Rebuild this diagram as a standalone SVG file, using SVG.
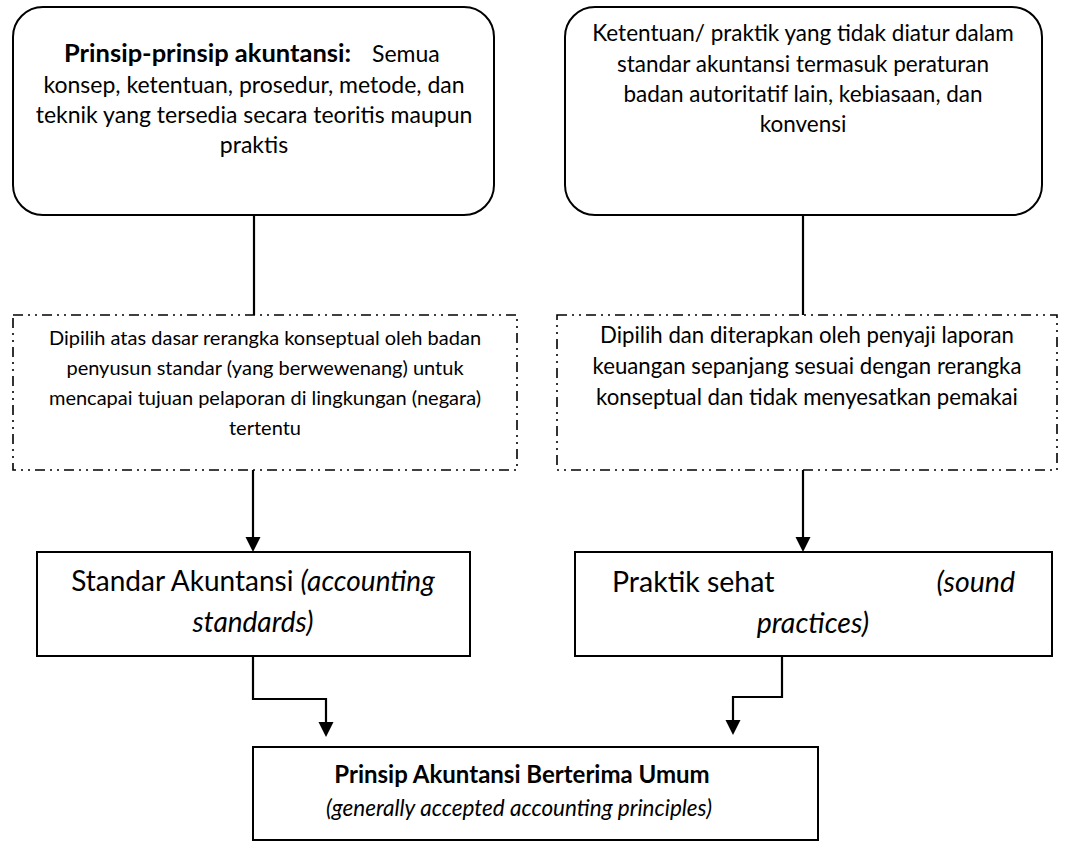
<svg xmlns="http://www.w3.org/2000/svg" width="1067" height="850" viewBox="0 0 1067 850">
<style>
.t{font-family:Lato,"Open Sans","Liberation Sans",sans-serif;fill:#000;text-anchor:middle}
.s{text-anchor:start}
.box{fill:#fff;stroke:#000;stroke-width:2}
.dash{fill:none;stroke:#000;stroke-width:1.6;stroke-dasharray:10 5 2 5 2 5}
.con{fill:none;stroke:#000;stroke-width:2.2}
</style>
<rect width="1067" height="850" fill="#fff"/>
<g id="connectors">
<line class="con" x1="254" y1="215" x2="254" y2="315"/>
<line class="con" x1="803" y1="215" x2="803" y2="315"/>
<path class="con" d="M253 470 V537"/>
<path d="M245.5 537 L260.5 537 L253 552 Z" fill="#000"/>
<path class="con" d="M803 470 V537"/>
<path d="M795.5 537 L810.5 537 L803 552 Z" fill="#000"/>
<path class="con" d="M253 656 V699 H326 V723"/>
<path d="M318.5 722 L333.5 722 L326 737 Z" fill="#000"/>
<path class="con" d="M782 656 V697 H733 V721"/>
<path d="M725.5 720 L740.5 720 L733 735 Z" fill="#000"/>
</g>
<g id="prinsip">
<rect class="box" x="13" y="7" width="481" height="208" rx="30"/>
<text class="t s" font-size="25.5" font-weight="bold" x="64" y="62">Prinsip-prinsip akuntansi:</text>
<text class="t s" font-size="23" x="372" y="62">Semua</text>
<text class="t" font-size="23" x="254" y="93">konsep, ketentuan, prosedur, metode, dan</text>
<text class="t" font-size="23" x="254" y="123">teknik yang tersedia secara teoritis maupun</text>
<text class="t" font-size="23" x="254" y="153">praktis</text>
</g>
<g id="ketentuan">
<rect class="box" x="565" y="7" width="477" height="208" rx="30"/>
<text class="t" font-size="22.5" x="803" y="41">Ketentuan/ praktik yang tidak diatur dalam</text>
<text class="t" font-size="22.5" x="803" y="72">standar akuntansi termasuk peraturan</text>
<text class="t" font-size="22.5" x="803" y="102">badan autoritatif lain, kebiasaan, dan</text>
<text class="t" font-size="22.5" x="803" y="132">konvensi</text>
</g>
<g id="dipilih-standar">
<rect class="dash" x="13" y="315" width="504" height="155"/>
<text class="t" font-size="20" x="265" y="345">Dipilih atas dasar rerangka konseptual oleh badan</text>
<text class="t" font-size="20" x="265" y="375">penyusun standar (yang berwewenang) untuk</text>
<text class="t" font-size="20" x="265" y="405">mencapai tujuan pelaporan di lingkungan (negara)</text>
<text class="t" font-size="20" x="265" y="435">tertentu</text>
</g>
<g id="dipilih-praktik">
<rect class="dash" x="557" y="315" width="500" height="155"/>
<text class="t" font-size="22.2" x="807" y="343">Dipilih dan diterapkan oleh penyaji laporan</text>
<text class="t" font-size="22.2" x="807" y="374">keuangan sepanjang sesuai dengan rerangka</text>
<text class="t" font-size="22.2" x="807" y="405">konseptual dan tidak menyesatkan pemakai</text>
</g>
<g id="standar">
<rect class="box" x="37" y="552" width="433" height="104"/>
<text class="t" font-size="28" x="253" y="591">Standar Akuntansi <tspan font-style="italic">(accounting</tspan></text>
<text class="t" font-size="28" x="253" y="632" font-style="italic">standards)</text>
</g>
<g id="praktik">
<rect class="box" x="575" y="552" width="477" height="104"/>
<text class="t s" font-size="28.5" x="612" y="592">Praktik sehat</text>
<text class="t" font-size="28.5" x="1015" y="592" font-style="italic" style="text-anchor:end">(sound</text>
<text class="t" font-size="28.5" x="813" y="633" font-style="italic">practices)</text>
</g>
<g id="pabu">
<rect class="box" x="253" y="747" width="565" height="93"/>
<text class="t" font-size="24" font-weight="bold" x="522" y="783">Prinsip Akuntansi Berterima Umum</text>
<text class="t" font-size="22.5" font-style="italic" x="519" y="816">(generally accepted accounting principles)</text>
</g>
</svg>
